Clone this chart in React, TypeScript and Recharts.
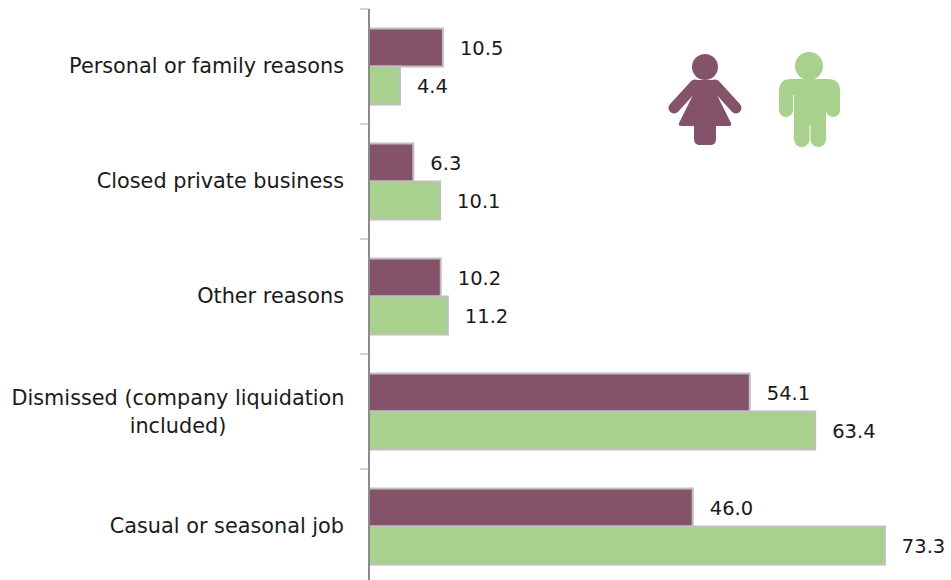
import { BarChart, Bar, XAxis, YAxis, LabelList } from 'recharts';

const categories = [
  'Personal or family reasons',
  'Closed private business',
  'Other reasons',
  'Dismissed (company liquidation included)',
  'Casual or seasonal job',
];
const women = [10.5, 6.3, 10.2, 54.1, 46.0];
const men = [4.4, 10.1, 11.2, 63.4, 73.3];

const data = categories.map((name, i) => ({ name, women: women[i], men: men[i] }));

const WOMEN_COLOR = '#845369';
const MEN_COLOR = '#a9d18e';
const AXIS_COLOR = '#8c8c8c';
const FONT = '"DejaVu Sans", sans-serif';
const BAND = 115;

// ticks sit on the band edges, so they are drawn here and not by the axis.
// long labels break after "liquidation", second line centred under the first
const CategoryTick = ({ x, y, payload }: any) => {
  const value: string = payload.value;
  const cut = value.indexOf(' included');
  const tickLine = (
    <line x1={x + 16} x2={x + 25} y1={y - BAND / 2} y2={y - BAND / 2} stroke="#a6a6a6" />
  );
  if (cut === -1) {
    return (
      <g>
        {tickLine}
        <text x={x} y={y} dy={6} textAnchor="end" fontSize={20.8} fontFamily={FONT} fill="#1a1a1a">
          {value}
        </text>
      </g>
    );
  }
  return (
    <g>
      {tickLine}
      <text y={y} fontSize={20.8} fontFamily={FONT} fill="#1a1a1a" textAnchor="middle">
        <tspan x={x - 166} dy={-7}>{value.slice(0, cut)}</tspan>
        <tspan x={x - 166} dy={28}>{value.slice(cut + 1)}</tspan>
      </text>
    </g>
  );
};

const Icons = () => (
  <svg width={951} height={580} style={{ position: 'absolute', left: 0, top: 0, pointerEvents: 'none' }}>
    <g fill={WOMEN_COLOR} stroke={WOMEN_COLOR}>
      <circle cx={705} cy={67} r={13} stroke="none" />
      <path
        d="M694 80 H716 V93 L731 123 Q732 126 729 126 H716 V139 Q716 145 710 145 H700 Q694 145 694 139 V126 H681 Q678 126 679 123 L694 93 Z"
        stroke="none"
      />
      <path d="M695 85 L674 108 M715 85 L736 108" strokeWidth={11} strokeLinecap="round" fill="none" />
    </g>
    <g fill={MEN_COLOR}>
      <circle cx={809} cy={66} r={14} />
      <path d="M791 79 H828 Q840 79 840 91 V95 H779 V91 Q779 79 791 79 Z" />
      <rect x={779} y={85} width={14} height={32} rx={7} />
      <rect x={826} y={85} width={14} height={32} rx={7} />
      <rect x={794} y={85} width={32} height={40} />
      <rect x={794} y={105} width={15.5} height={42} rx={7.5} />
      <rect x={810.5} y={105} width={15.5} height={42} rx={7.5} />
    </g>
  </svg>
);

export default function App() {
  return (
    <div style={{ position: 'absolute', left: 0, top: 0, width: 951, height: 580, overflow: 'hidden', background: '#fff' }}>
      <BarChart
        width={951}
        height={590}
        data={data}
        layout="vertical"
        margin={{ top: 9, right: 19, bottom: 6, left: 0 }}
        barCategoryGap="17%"
        barGap={0}
      >
        <XAxis type="number" domain={[0, 80]} hide />
        <YAxis
          type="category"
          dataKey="name"
          width={369}
          interval={0}
          tick={<CategoryTick />}
          tickSize={9}
          tickMargin={16}
          axisLine={{ stroke: AXIS_COLOR, strokeWidth: 2 }}
          tickLine={false}
          scale="band"
        />
        <Bar dataKey="women" fill={WOMEN_COLOR} stroke="#bfbfbf" strokeWidth={2} isAnimationActive={false}>
          <LabelList
            dataKey="women"
            position="right"
            offset={17}
            dy={1}
            fontSize={19.5}
            fontFamily={FONT}
            fill="#1a1a1a"
            formatter={(v: number) => v.toFixed(1)}
          />
        </Bar>
        <Bar dataKey="men" fill={MEN_COLOR} stroke="#bfbfbf" strokeWidth={2} isAnimationActive={false}>
          <LabelList
            dataKey="men"
            position="right"
            offset={17}
            dy={1}
            fontSize={19.5}
            fontFamily={FONT}
            fill="#1a1a1a"
            formatter={(v: number) => v.toFixed(1)}
          />
        </Bar>
      </BarChart>
      <Icons />
    </div>
  );
}
